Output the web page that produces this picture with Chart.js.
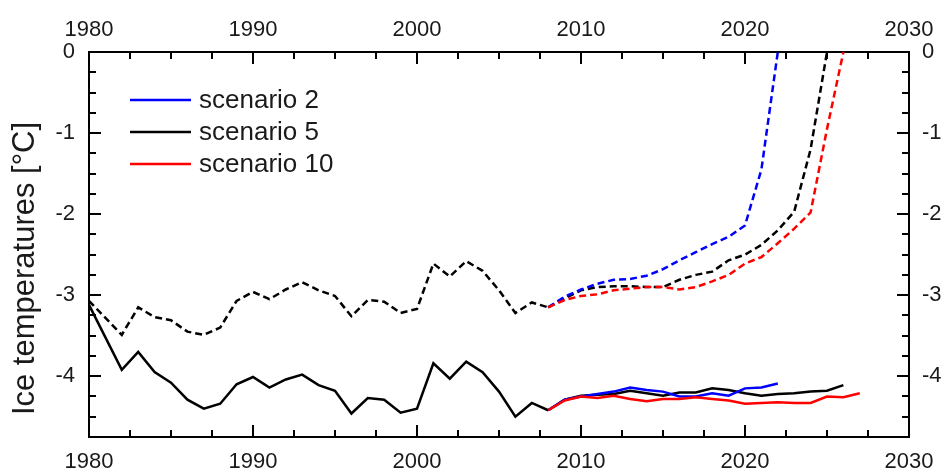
<!DOCTYPE html>
<html>
<head>
<meta charset="utf-8">
<title>Ice temperatures</title>
<script src="https://cdn.jsdelivr.net/npm/chart.js@4/dist/chart.umd.min.js"></script>
<style>
  html, body { margin: 0; padding: 0; background: #fff; }
  canvas { display: block; }
</style>
</head>
<body>
<canvas id="chart" width="946" height="472"></canvas>
<script>
// observed period
const histYears = [1980, 1982, 1983, 1984, 1985, 1986, 1987, 1988, 1989, 1990, 1991, 1992, 1993, 1994,
  1995, 1996, 1997, 1998, 1999, 2000, 2001, 2002, 2003, 2004, 2005, 2006, 2007, 2008];
const histSolid = [-3.12, -3.92, -3.70, -3.95, -4.08, -4.29, -4.40, -4.34, -4.10, -4.01, -4.14, -4.04, -3.98, -4.11,
  -4.18, -4.46, -4.27, -4.29, -4.45, -4.40, -3.84, -4.03, -3.82, -3.95, -4.19, -4.50, -4.33, -4.42];
const histDashed = [-3.07, -3.49, -3.15, -3.27, -3.31, -3.45, -3.49, -3.40, -3.07, -2.96, -3.05, -2.93, -2.84, -2.94,
  -3.01, -3.26, -3.06, -3.08, -3.22, -3.17, -2.61, -2.77, -2.58, -2.70, -2.94, -3.22, -3.09, -3.15];

// scenarios, starting 2008
const projYears = [2008, 2009, 2010, 2011, 2012, 2013, 2014, 2015, 2016, 2017,
  2018, 2019, 2020, 2021, 2022, 2023, 2024, 2025, 2026, 2027];
const s2Solid = [-4.42, -4.29, -4.25, -4.22, -4.19, -4.14, -4.17, -4.19, -4.25, -4.25, -4.21, -4.24, -4.15, -4.14, -4.09];
const s5Solid = [-4.42, -4.29, -4.24, -4.23, -4.22, -4.18, -4.21, -4.24, -4.20, -4.20, -4.15, -4.17, -4.21, -4.24, -4.22,
  -4.21, -4.19, -4.18, -4.11];
const s10Solid = [-4.42, -4.30, -4.25, -4.27, -4.24, -4.28, -4.31, -4.28, -4.28, -4.26, -4.28, -4.30, -4.34, -4.33, -4.32,
  -4.33, -4.33, -4.25, -4.26, -4.21];
const s2Dashed = [-3.15, -3.02, -2.93, -2.86, -2.81, -2.80, -2.76, -2.68, -2.57, -2.47, -2.37, -2.28, -2.14, -1.45, 0];
const s5Dashed = [-3.15, -3.04, -2.94, -2.90, -2.89, -2.89, -2.90, -2.90, -2.81, -2.75, -2.71, -2.57, -2.50, -2.38, -2.20,
  -1.97, -1.20, 0];
const s10Dashed = [-3.15, -3.06, -3.01, -2.99, -2.94, -2.92, -2.90, -2.90, -2.93, -2.90, -2.83, -2.75, -2.61, -2.53, -2.36,
  -2.18, -1.98, -0.95, 0];

const scenarioNames = ['scenario 2', 'scenario 5', 'scenario 10'];
const scenarioColors = ['#0000ff', '#000000', '#ff0000'];

const pts = (xs, ys) => ys.map((v, i) => ({ x: xs[i], y: v }));

const FONT = '"Liberation Sans", Arial, sans-serif';
Chart.defaults.font.family = FONT;
Chart.defaults.color = '#1a1a1a';

function lineSet(label, data, color, dashed, order) {
  return {
    label: label,
    data: data,
    borderColor: color,
    backgroundColor: color,
    borderWidth: 2.5,
    borderDash: dashed ? [7, 4] : [],
    pointRadius: 0,
    tension: 0,
    fill: false,
    order: order
  };
}

const datasets = [
  lineSet('observed', pts(histYears, histSolid), '#000000', false, 5),
  lineSet('observed (dashed)', pts(histYears, histDashed), '#000000', true, 5),
  lineSet(scenarioNames[1], pts(projYears, s5Solid), scenarioColors[1], false, 4),
  lineSet(scenarioNames[1] + ' (dashed)', pts(projYears, s5Dashed), scenarioColors[1], true, 4),
  lineSet(scenarioNames[0], pts(projYears, s2Solid), scenarioColors[0], false, 2),
  lineSet(scenarioNames[0] + ' (dashed)', pts(projYears, s2Dashed), scenarioColors[0], true, 3),
  lineSet(scenarioNames[2], pts(projYears, s10Solid), scenarioColors[2], false, 1),
  lineSet(scenarioNames[2] + ' (dashed)', pts(projYears, s10Dashed), scenarioColors[2], true, 1)
];

// ticks pointing into the plot, long on labelled values
const innerTicks = {
  id: 'innerTicks',
  afterDatasetsDraw(chart) {
    const ctx = chart.ctx;
    const a = chart.chartArea;
    ctx.save();
    ctx.strokeStyle = '#000';
    ctx.lineWidth = 2;
    Object.values(chart.scales).forEach(scale => {
      scale.ticks.forEach(t => {
        const major = scale.isHorizontal() ? t.value % 10 === 0 : Number.isInteger(t.value);
        const len = major ? 12 : 7;
        const p = Math.round(scale.getPixelForValue(t.value));
        ctx.beginPath();
        if (scale.position === 'bottom') { ctx.moveTo(p, a.bottom); ctx.lineTo(p, a.bottom - len); }
        else if (scale.position === 'top') { ctx.moveTo(p, a.top); ctx.lineTo(p, a.top + len); }
        else if (scale.position === 'left') { ctx.moveTo(a.left, p); ctx.lineTo(a.left + len, p); }
        else { ctx.moveTo(a.right, p); ctx.lineTo(a.right - len, p); }
        ctx.stroke();
      });
    });
    ctx.restore();
  }
};

// legend inside the plot (only the three scenarios)
const scenarioLegend = {
  id: 'scenarioLegend',
  afterDraw(chart) {
    const ctx = chart.ctx;
    const a = chart.chartArea;
    ctx.save();
    ctx.font = '26px ' + FONT;
    ctx.textBaseline = 'middle';
    ctx.fillStyle = '#1a1a1a';
    scenarioNames.forEach((name, i) => {
      const y = a.top + 48 + i * 32;
      ctx.strokeStyle = scenarioColors[i];
      ctx.lineWidth = 2.5;
      ctx.beginPath();
      ctx.moveTo(a.left + 41, y);
      ctx.lineTo(a.left + 102, y);
      ctx.stroke();
      ctx.fillText(name, a.left + 110, y + 1);
    });
    ctx.restore();
  }
};

// y axis title, sits a bit below the middle of the axis
const yTitle = {
  id: 'yTitle',
  afterDraw(chart) {
    const ctx = chart.ctx;
    const a = chart.chartArea;
    ctx.save();
    ctx.translate(25, (a.top + a.bottom) / 2 + 24);
    ctx.rotate(-Math.PI / 2);
    ctx.font = '31px ' + FONT;
    ctx.fillStyle = '#1a1a1a';
    ctx.textAlign = 'center';
    ctx.textBaseline = 'middle';
    ctx.fillText('Ice temperatures [°C]', 0, 0);
    ctx.restore();
  }
};

function xAxis(position, size, pad) {
  return {
    type: 'linear',
    position: position,
    min: 1980,
    max: 2030,
    grid: { display: false, drawTicks: false },
    border: { display: true, color: '#000', width: 2 },
    ticks: {
      stepSize: 2.5,
      autoSkip: false,
      maxRotation: 0,
      padding: pad,
      font: { size: 22 },
      callback: v => (v % 10 === 0 ? String(v) : '')
    },
    afterFit: s => { s.height = size; }
  };
}

function yAxis(position, size, pad) {
  return {
    type: 'linear',
    position: position,
    min: -4.75,
    max: 0,
    grid: { display: false, drawTicks: false },
    border: { display: true, color: '#000', width: 2 },
    ticks: {
      stepSize: 0.25,
      autoSkip: false,
      padding: pad,
      font: { size: 22 },
      callback: v => (Number.isInteger(v) ? String(v) : '')
    },
    afterFit: s => { s.width = size; }
  };
}

new Chart(document.getElementById('chart').getContext('2d'), {
  type: 'line',
  data: { datasets: datasets },
  options: {
    responsive: false,
    animation: false,
    layout: { padding: 0 },
    plugins: {
      legend: { display: false },
      tooltip: { enabled: false }
    },
    scales: {
      x: xAxis('bottom', 35, 12),
      x2: xAxis('top', 52, 9),
      y: yAxis('left', 89, 14),
      y2: yAxis('right', 37, 13)
    }
  },
  plugins: [innerTicks, scenarioLegend, yTitle]
});
</script>
</body>
</html>
